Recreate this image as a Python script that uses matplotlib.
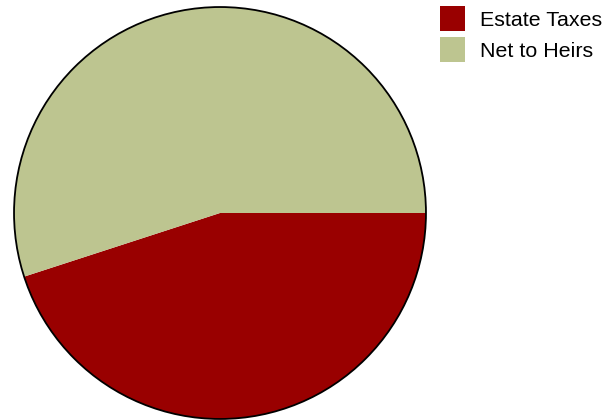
import matplotlib.pyplot as plt
from matplotlib.patches import Patch, Circle

labels = ["Estate Taxes", "Net to Heirs"]
values = [45, 55]
colors = ["#990000", "#BDC590"]

plt.rcParams['font.family'] = ['Liberation Sans', 'DejaVu Sans']

fig = plt.figure(figsize=(6.16, 4.2), dpi=100)
ax = fig.add_axes([13/616, 0/420, 414/616, 414/420])

ax.pie(values, colors=colors, startangle=0, counterclock=False,
       wedgeprops=dict(linewidth=0), radius=1.0)
ax.add_patch(Circle((0, 0), 1.0, fill=False, edgecolor='black', linewidth=1.3))
ax.set_xlim(-1.005, 1.005)
ax.set_ylim(-1.005, 1.005)
ax.set_aspect('equal')
ax.axis('off')

handles = [Patch(facecolor=c, edgecolor='none') for c in colors]
fig.legend(handles, labels, loc='upper left', bbox_to_anchor=(440/616, 1 - 6/420),
           frameon=False, borderpad=0, borderaxespad=0, fontsize=15.4,
           handlelength=1.17, handleheight=1.42, labelspacing=0.28,
           handletextpad=0.72)

fig.savefig('out.png', dpi=100)
